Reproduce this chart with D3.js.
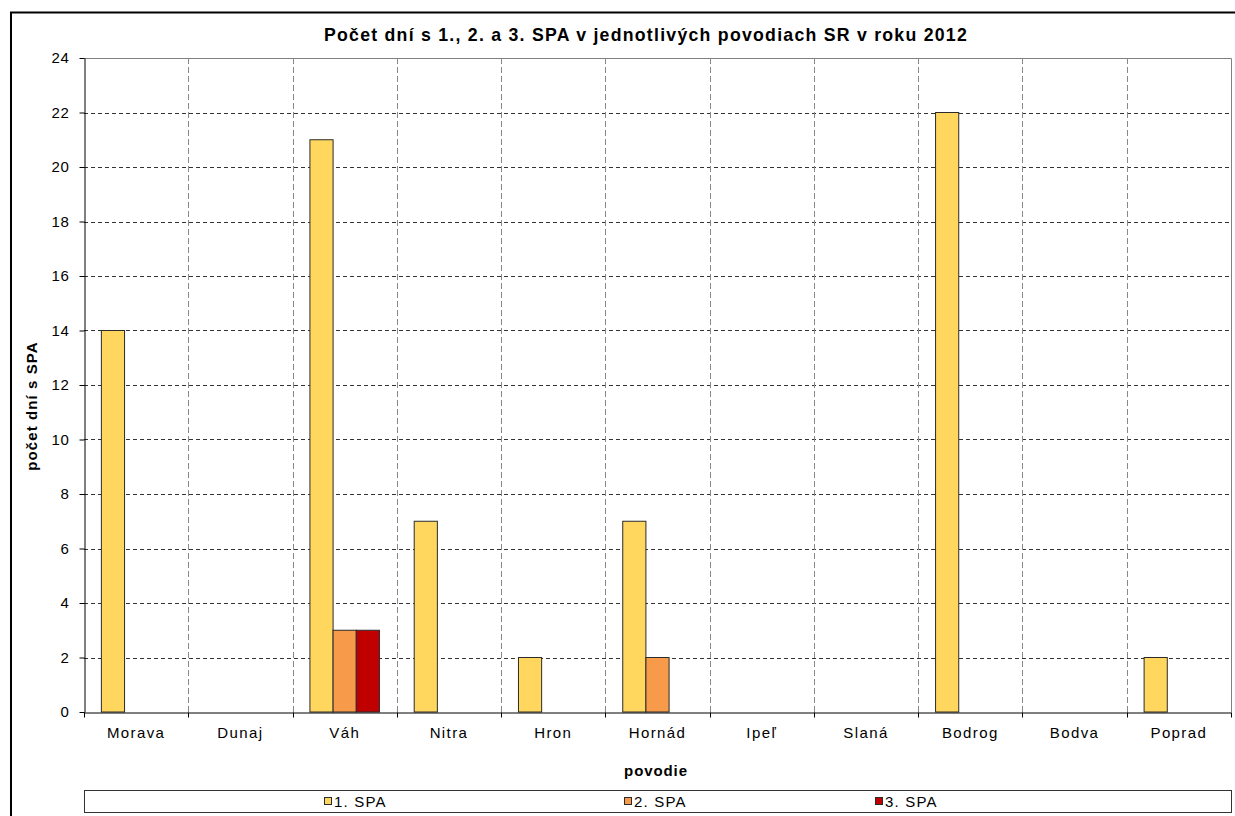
<!DOCTYPE html>
<html>
<head>
<meta charset="utf-8">
<script src="https://cdn.jsdelivr.net/npm/d3@7"></script>
<style>
  html, body { margin: 0; padding: 0; background: #fff; }
  svg { display: block; font-family: "Liberation Sans", Arial, sans-serif; }
</style>
</head>
<body>
<svg id="chart" width="1235" height="816"></svg>
<script>
// River basins (povodia) and day counts for each alert level
const categories = ["Morava", "Dunaj", "Váh", "Nitra", "Hron", "Hornád", "Ipeľ", "Slaná", "Bodrog", "Bodva", "Poprad"];
const seriesNames = ["1. SPA", "2. SPA", "3. SPA"];
const spa1 = [14, 0, 21, 7, 2, 7, 0, 0, 22, 0, 2];
const spa2 = [0, 0, 3, 0, 0, 2, 0, 0, 0, 0, 0];
const spa3 = [0, 0, 3, 0, 0, 0, 0, 0, 0, 0, 0];
const seriesColors = ["#FFD75E", "#F79A4A", "#C00000"];
const yTicks = [0, 2, 4, 6, 8, 10, 12, 14, 16, 18, 20, 22, 24];

const titleText = "Počet dní s 1., 2. a 3. SPA v jednotlivých povodiach SR v roku 2012";
const yTitle = "počet dní s SPA";
const xTitle = "povodie";

const series = [spa1, spa2, spa3];

const svg = d3.select("#chart");
const plot = { left: 84, right: 1231, top: 58, bottom: 712 };
const FONT = "Liberation Sans, Arial, sans-serif";

// outer chart frame
svg.append("rect")
  .attr("x", 11).attr("y", 12.5)
  .attr("width", 1240).attr("height", 820)
  .attr("fill", "#fff").attr("stroke", "#000").attr("stroke-width", 2);

const x = d3.scaleBand().domain(categories).range([plot.left, plot.right]).paddingInner(0).paddingOuter(0);
// three bars per category, gap width 150% of a bar
const barW = x.bandwidth() / 4.5;
const inner = d3.scaleBand().domain(d3.range(series.length))
  .range([barW * 0.75, barW * 0.75 + barW * 3]);

const y = d3.scaleLinear().domain([0, 24]).range([plot.bottom, plot.top]);

// plot frame (top/right)
svg.append("path")
  .attr("d", `M${plot.left},${plot.top + 0.5}H${plot.right + 0.5}V${plot.bottom}`)
  .attr("fill", "none").attr("stroke", "#808080").attr("stroke-width", 1);

// horizontal dashed gridlines
svg.append("g").selectAll("line")
  .data(yTicks.filter(d => d > 0 && d < 24))
  .join("line")
  .attr("x1", plot.left).attr("x2", plot.right)
  .attr("y1", d => Math.round(y(d)) + 0.5).attr("y2", d => Math.round(y(d)) + 0.5)
  .attr("stroke", "#333").attr("stroke-width", 1).attr("stroke-dasharray", "4,3");

// vertical dashed gridlines on category boundaries
svg.append("g").selectAll("line")
  .data(categories.slice(1))
  .join("line")
  .attr("x1", d => Math.round(x(d)) + 0.5).attr("x2", d => Math.round(x(d)) + 0.5)
  .attr("y1", plot.top).attr("y2", plot.bottom)
  .attr("stroke", "#888").attr("stroke-width", 1).attr("stroke-dasharray", "6,3");

// bars
const bars = [];
categories.forEach((c, i) => {
  series.forEach((s, k) => {
    if (s[i] > 0) bars.push({ c, k, v: s[i] });
  });
});
svg.append("g").selectAll("rect")
  .data(bars)
  .join("rect")
  .attr("x", d => x(d.c) + inner(d.k))
  .attr("width", inner.bandwidth())
  .attr("y", d => y(d.v))
  .attr("height", d => y(0) - y(d.v))
  .attr("fill", d => seriesColors[d.k])
  .attr("stroke", "#2b2b2b").attr("stroke-width", 1);

// y axis
const yAxis = svg.append("g")
  .attr("transform", `translate(${plot.left + 0.5},0)`)
  .call(d3.axisLeft(y).tickValues(yTicks).tickSize(5).tickSizeOuter(0).tickPadding(10));
yAxis.select(".domain").attr("stroke", "#000");
yAxis.selectAll(".tick line").attr("stroke", "#000");
yAxis.selectAll("text").attr("font-size", 15).attr("fill", "#000")
  .attr("font-family", FONT).attr("letter-spacing", 0.6);

// x axis
const xAxis = svg.append("g")
  .attr("transform", `translate(0,${plot.bottom + 0.5})`)
  .call(d3.axisBottom(x).tickSize(0));
xAxis.select(".domain").attr("stroke", "#000");
xAxis.selectAll("text")
  .attr("y", 25).attr("dy", 0)
  .attr("font-size", 15).attr("fill", "#000")
  .attr("font-family", FONT).attr("letter-spacing", 1.4);
// tick marks on category boundaries
xAxis.append("g").selectAll("line")
  .data(categories.concat(["end"]))
  .join("line")
  .attr("x1", (d, i) => Math.round(plot.left + i * x.bandwidth()) + 0.5)
  .attr("x2", (d, i) => Math.round(plot.left + i * x.bandwidth()) + 0.5)
  .attr("y1", 0).attr("y2", 5)
  .attr("stroke", "#000");

// titles
svg.append("text")
  .attr("x", 646).attr("y", 41)
  .attr("text-anchor", "middle")
  .attr("font-size", 17.7).attr("font-weight", "bold").attr("letter-spacing", 1.25)
  .text(titleText);

svg.append("text")
  .attr("transform", `translate(37,406) rotate(-90)`)
  .attr("text-anchor", "middle")
  .attr("font-size", 15).attr("font-weight", "bold").attr("letter-spacing", 1.1)
  .text(yTitle);

svg.append("text")
  .attr("x", 656).attr("y", 776)
  .attr("text-anchor", "middle")
  .attr("font-size", 15).attr("font-weight", "bold").attr("letter-spacing", 0.9)
  .text(xTitle);

// legend
const legend = svg.append("g");
legend.append("rect")
  .attr("x", 84.5).attr("y", 790.5).attr("width", 1147).attr("height", 22)
  .attr("fill", "#fff").attr("stroke", "#333").attr("stroke-width", 1);
const legendX = [324, 624, 875];
seriesNames.forEach((name, k) => {
  legend.append("rect")
    .attr("x", legendX[k] + 0.5).attr("y", 797.5).attr("width", 7).attr("height", 7)
    .attr("fill", seriesColors[k]).attr("stroke", "#2b2b2b");
  legend.append("text")
    .attr("x", legendX[k] + 10).attr("y", 807)
    .attr("font-size", 15).attr("letter-spacing", 1.2)
    .text(name);
});
</script>
</body>
</html>
